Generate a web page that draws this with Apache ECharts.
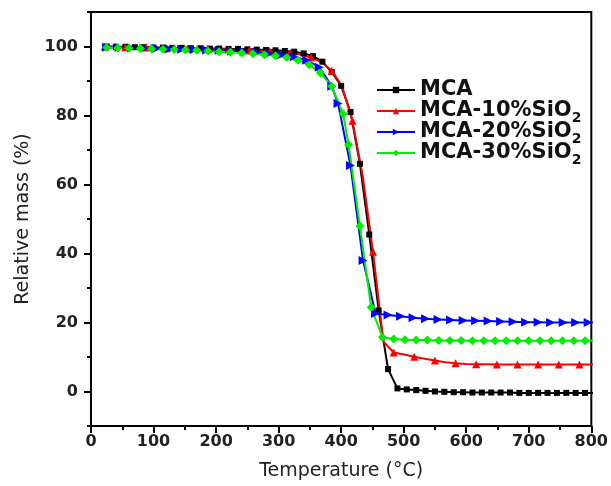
<!DOCTYPE html>
<html>
<head>
<meta charset="utf-8">
<script src="https://cdn.jsdelivr.net/npm/echarts@6/dist/echarts.min.js"></script>
<style>
  html, body { margin: 0; padding: 0; background: #fff; }
  #chart { width: 611px; height: 486px; }
</style>
</head>
<body>
<div id="chart"></div>
<script>
// TGA curves: relative mass (%) versus temperature (°C)
const seriesNames = ['MCA', 'MCA-10%SiO2', 'MCA-20%SiO2', 'MCA-30%SiO2'];

const mcaTemp = [25,40,55,70,85,100,115,130,145,160,175,190,205,220,235,250,265,280,295,310,325,340,355,370,385,400,415,430,445,460,475,490,505,520,535,550,565,580,595,610,625,640,655,670,685,700,715,730,745,760,775,790,805];
const mcaMass = [100.0,99.9,99.9,99.8,99.8,99.7,99.7,99.6,99.6,99.5,99.5,99.4,99.4,99.3,99.3,99.2,99.1,99.0,98.9,98.7,98.5,98.0,97.2,95.6,92.6,88.6,81.0,66.0,45.5,23.5,6.5,0.9,0.6,0.4,0.2,0.0,-0.1,-0.2,-0.2,-0.3,-0.3,-0.3,-0.3,-0.3,-0.4,-0.4,-0.4,-0.4,-0.4,-0.4,-0.4,-0.4,-0.4];

const sio10Temp = [22,38.5,55,71.5,88,104.5,121,137.5,154,170.5,187,203.5,220,236.5,253,269.5,286,302.5,319,335.5,352,368.5,385,401.5,418,434.5,451,467.5,484,500.5,517,533.5,550,566.5,583,599.5,616,632.5,649,665.5,682,698.5,715,731.5,748,764.5,781,797.5,814];
const sio10Mass = [100.0,99.9,99.8,99.7,99.7,99.6,99.5,99.5,99.4,99.3,99.3,99.2,99.1,99.0,98.9,98.8,98.6,98.4,98.1,97.6,96.8,95.5,93.0,88.5,78.5,62.5,40.5,14.5,11.3,10.7,10.1,9.5,9.0,8.5,8.2,8.0,7.9,7.9,7.8,7.8,7.8,7.8,7.8,7.8,7.8,7.8,7.8,7.8,7.8];

const sio20Temp = [25,45,65,85,105,125,145,165,185,205,225,245,265,285,305,325,345,365,385,395,415,435,455,475,495,515,535,555,575,595,615,635,655,675,695,715,735,755,775,795,815];
const sio20Mass = [99.8,99.7,99.6,99.5,99.4,99.3,99.2,99.1,99.0,98.9,98.7,98.5,98.3,98.0,97.6,97.0,96.0,94.0,88.5,83.5,65.5,38.0,22.6,22.2,21.8,21.4,21.1,20.9,20.7,20.6,20.5,20.4,20.3,20.2,20.1,20.1,20.0,20.0,20.0,20.0,20.0];

const sio30Temp = [25,43,61,79,97,115,133,151,169,187,205,223,241,259,277,295,313,331,349,367,385,403,412,430,448,466,484,502,520,538,556,574,592,610,628,646,664,682,700,718,736,754,772,790,808];
const sio30Mass = [99.7,99.6,99.5,99.4,99.3,99.2,99.1,99.0,98.9,98.7,98.5,98.3,98.1,97.9,97.6,97.3,96.8,96.0,94.7,92.3,88.5,80.5,71.5,48.0,24.4,15.7,15.2,15.0,14.9,14.9,14.8,14.8,14.8,14.7,14.7,14.7,14.7,14.7,14.7,14.7,14.7,14.7,14.7,14.7,14.7];

const xTicks = [0, 100, 200, 300, 400, 500, 600, 700, 800];
const yTicks = [0, 20, 40, 60, 80, 100];
const yMinorTicks = [-10, 10, 30, 50, 70, 90, 110];

const pairs = (t, m) => t.map((x, i) => [x, m[i]]);

const chart = echarts.init(document.getElementById('chart'), null, { renderer: 'canvas' });

const font = 'DejaVu Sans, Verdana, sans-serif';

function lineSeries(name, data, color, symbol, size, every, rotate) {
  return {
    name: name,
    type: 'line',
    data: data,
    symbol: symbol,
    symbolRotate: rotate || 0,
    symbolSize: (v, p) => (p && p.dataIndex % every !== 0) ? 0 : size,
    showSymbol: true,
    showAllSymbol: true,
    clip: true,
    lineStyle: { color: color, width: 2 },
    itemStyle: { color: color, borderWidth: 0 },
    emphasis: { disabled: true },
    z: 3
  };
}

chart.setOption({
  animation: false,
  backgroundColor: '#fff',
  grid: {
    left: 91, right: 18, top: 12, bottom: 60,
    show: true, borderColor: '#000', borderWidth: 2, backgroundColor: 'transparent'
  },
  legend: {
    orient: 'vertical',
    left: 376, top: 76, padding: 0,
    itemWidth: 38, itemHeight: 8, itemGap: -7,
    data: seriesNames,
    formatter: (n) => n.endsWith('SiO2') ? '{main|' + n.slice(0, -1) + '}{sub|2}' : '{main|' + n + '}',
    textStyle: {
      fontFamily: font, fontWeight: 'bold', fontSize: 21, color: '#111', lineHeight: 28,
      rich: {
        main: { fontFamily: font, fontWeight: 'bold', fontSize: 21, color: '#111', lineHeight: 28, verticalAlign: 'middle' },
        sub: { fontFamily: font, fontWeight: 'bold', fontSize: 14, color: '#111', lineHeight: 14, verticalAlign: 'bottom' }
      }
    }
  },
  xAxis: {
    type: 'value', min: 0, max: 800, interval: 100,
    name: 'Temperature (°C)', nameLocation: 'middle', nameGap: 36,
    nameTextStyle: { fontFamily: font, fontSize: 19, color: '#222' },
    axisLine: { show: true, onZero: false, lineStyle: { color: '#000', width: 2 } },
    axisTick: { show: true, inside: false, length: 7, lineStyle: { color: '#000', width: 2 } },
    minorTick: { show: true, splitNumber: 2, length: 4, lineStyle: { color: '#000', width: 2 } },
    axisLabel: { fontFamily: font, fontWeight: 'bold', fontSize: 16, color: '#222', margin: 8, customValues: xTicks },
    splitLine: { show: false }
  },
  yAxis: [{
    type: 'value', min: -10, max: 110,
    name: 'Relative mass (%)', nameLocation: 'middle', nameGap: 58, nameRotate: 90,
    nameTextStyle: { fontFamily: font, fontSize: 19, color: '#222' },
    axisLine: { show: true, onZero: false, lineStyle: { color: '#000', width: 2 } },
    axisTick: { show: true, inside: false, length: 7, customValues: yTicks, lineStyle: { color: '#000', width: 2 } },
    axisLabel: { fontFamily: font, fontWeight: 'bold', fontSize: 16, color: '#222', margin: 13, customValues: yTicks },
    splitLine: { show: false }
  }, {
    type: 'value', min: -10, max: 110, position: 'left',
    axisLine: { show: false },
    axisTick: { show: true, inside: false, length: 4, customValues: yMinorTicks, lineStyle: { color: '#000', width: 2 } },
    axisLabel: { show: false },
    splitLine: { show: false }
  }],
  series: [
    lineSeries(seriesNames[0], pairs(mcaTemp, mcaMass), '#000000', 'rect', 6, 1),
    lineSeries(seriesNames[1], pairs(sio10Temp, sio10Mass), '#ff0000', 'triangle', 8, 2),
    lineSeries(seriesNames[2], pairs(sio20Temp, sio20Mass), '#0000ff', 'triangle', 9, 1, -90),
    lineSeries(seriesNames[3], pairs(sio30Temp, sio30Mass), '#00ee00', 'diamond', 9, 1)
  ]
});
</script>
</body>
</html>
